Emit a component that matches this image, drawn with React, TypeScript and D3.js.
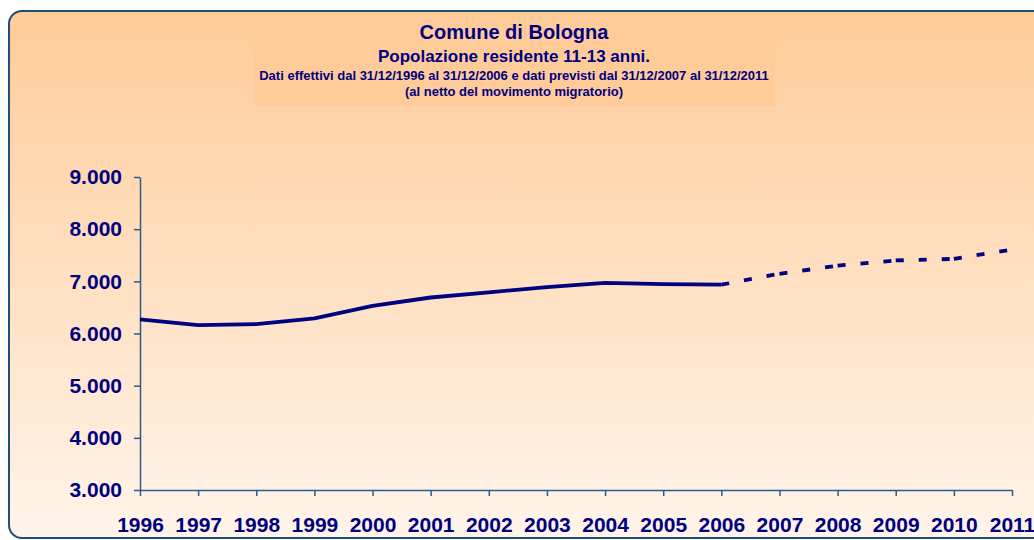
import React, { useEffect, useRef } from 'react';
import * as d3 from 'd3';

// dati effettivi 1996-2006
const actualYears = [1996, 1997, 1998, 1999, 2000, 2001, 2002, 2003, 2004, 2005, 2006];
const actualValues = [6270, 6160, 6180, 6290, 6530, 6690, 6790, 6890, 6970, 6945, 6935];

// dati previsti 2006-2011 (parte dal 2006 per unire le due linee)
const forecastYears = [2006, 2007, 2008, 2009, 2010, 2011];
const forecastValues = [6935, 7145, 7300, 7400, 7430, 7610];

const yTicks = [3000, 4000, 5000, 6000, 7000, 8000, 9000];
const xTicks = d3.range(1996, 2012);

const titleLines = [
    'Comune di Bologna',
    'Popolazione residente 11-13 anni.',
    'Dati effettivi dal 31/12/1996 al 31/12/2006 e dati previsti dal 31/12/2007 al 31/12/2011',
    '(al netto del movimento migratorio)'
];

export default function App() {
    const svgRef = useRef<SVGSVGElement>(null);

    useEffect(() => {
        const width = 1034;
        const height = 540;
        const font = '"Liberation Sans", Arial, sans-serif';
        const navy = '#000080';
        const axisColor = '#2E5C8A';

        const svg = d3.select(svgRef.current)
            .attr('width', width)
            .attr('height', height);

        svg.selectAll('*').remove();

        // background gradient
        const grad = svg.append('defs').append('linearGradient')
            .attr('id', 'bg')
            .attr('x1', 0).attr('y1', 0).attr('x2', 0).attr('y2', 1);
        grad.append('stop').attr('offset', '0%').attr('stop-color', '#FFCB98');
        grad.append('stop').attr('offset', '100%').attr('stop-color', '#FFF4EA');

        svg.append('rect')
            .attr('x', 9).attr('y', 11)
            .attr('width', 1040).attr('height', 527)
            .attr('rx', 13).attr('ry', 13)
            .attr('fill', 'url(#bg)')
            .attr('stroke', '#1F4E79')
            .attr('stroke-width', 2);

        // title box
        svg.append('rect')
            .attr('x', 254).attr('y', 18)
            .attr('width', 521).attr('height', 88)
            .attr('fill', '#FFCC99');

        const titleSizes = [20, 17, 13, 13];
        const titleBaselines = [39, 62, 80, 96];
        titleLines.forEach((t, i) => {
            svg.append('text')
                .attr('x', 514)
                .attr('y', titleBaselines[i])
                .attr('text-anchor', 'middle')
                .attr('font-family', font)
                .attr('font-weight', 'bold')
                .attr('font-size', titleSizes[i])
                .attr('fill', navy)
                .text(t);
        });

        const x = d3.scaleLinear().domain([1996, 2011]).range([140, 1012]);
        const y = d3.scaleLinear().domain([3000, 9000]).range([490, 177]);

        const it = d3.formatLocale({ decimal: ',', thousands: '.', grouping: [3], currency: ['', '€'] });
        const fmt = it.format(',d');

        const yAxis = svg.append('g')
            .attr('transform', 'translate(140,0)')
            .call(d3.axisLeft(y).tickValues(yTicks).tickSize(6).tickSizeOuter(0).tickPadding(12)
                .tickFormat(d => fmt(d as number)));

        const xAxis = svg.append('g')
            .attr('transform', 'translate(0,490)')
            .call(d3.axisBottom(x).tickValues(xTicks).tickSize(6).tickSizeOuter(0).tickPadding(21)
                .tickFormat(d => String(d)));

        [yAxis, xAxis].forEach(g => {
            g.select('.domain').attr('stroke', axisColor).attr('stroke-width', 1.5);
            g.selectAll('.tick line').attr('stroke', axisColor).attr('stroke-width', 1.5);
            g.selectAll('.tick text')
                .attr('fill', navy)
                .attr('font-family', font)
                .attr('font-weight', 'bold')
                .attr('font-size', 21);
        });

        const line = d3.line<[number, number]>()
            .x(d => x(d[0]))
            .y(d => y(d[1]));

        const actual: [number, number][] = actualYears.map((yr, i) => [yr, actualValues[i]]);
        svg.append('path')
            .datum(actual)
            .attr('fill', 'none')
            .attr('stroke', navy)
            .attr('stroke-width', 3.8)
            .attr('stroke-linejoin', 'round')
            .attr('d', line);

        // dashed forecast, pattern restarts on every segment
        const forecast: [number, number][] = forecastYears.map((yr, i) => [yr, forecastValues[i]]);
        for (let i = 0; i < forecast.length - 1; i++) {
            svg.append('path')
                .datum([forecast[i], forecast[i + 1]])
                .attr('fill', 'none')
                .attr('stroke', navy)
                .attr('stroke-width', 3.8)
                .attr('stroke-dasharray', '8,15')
                .attr('d', line);
        }
    }, []);

    return (
        <div style={{ position: 'absolute', left: 0, top: 0 }}>
            <svg ref={svgRef} style={{ display: 'block' }}></svg>
        </div>
    );
}
